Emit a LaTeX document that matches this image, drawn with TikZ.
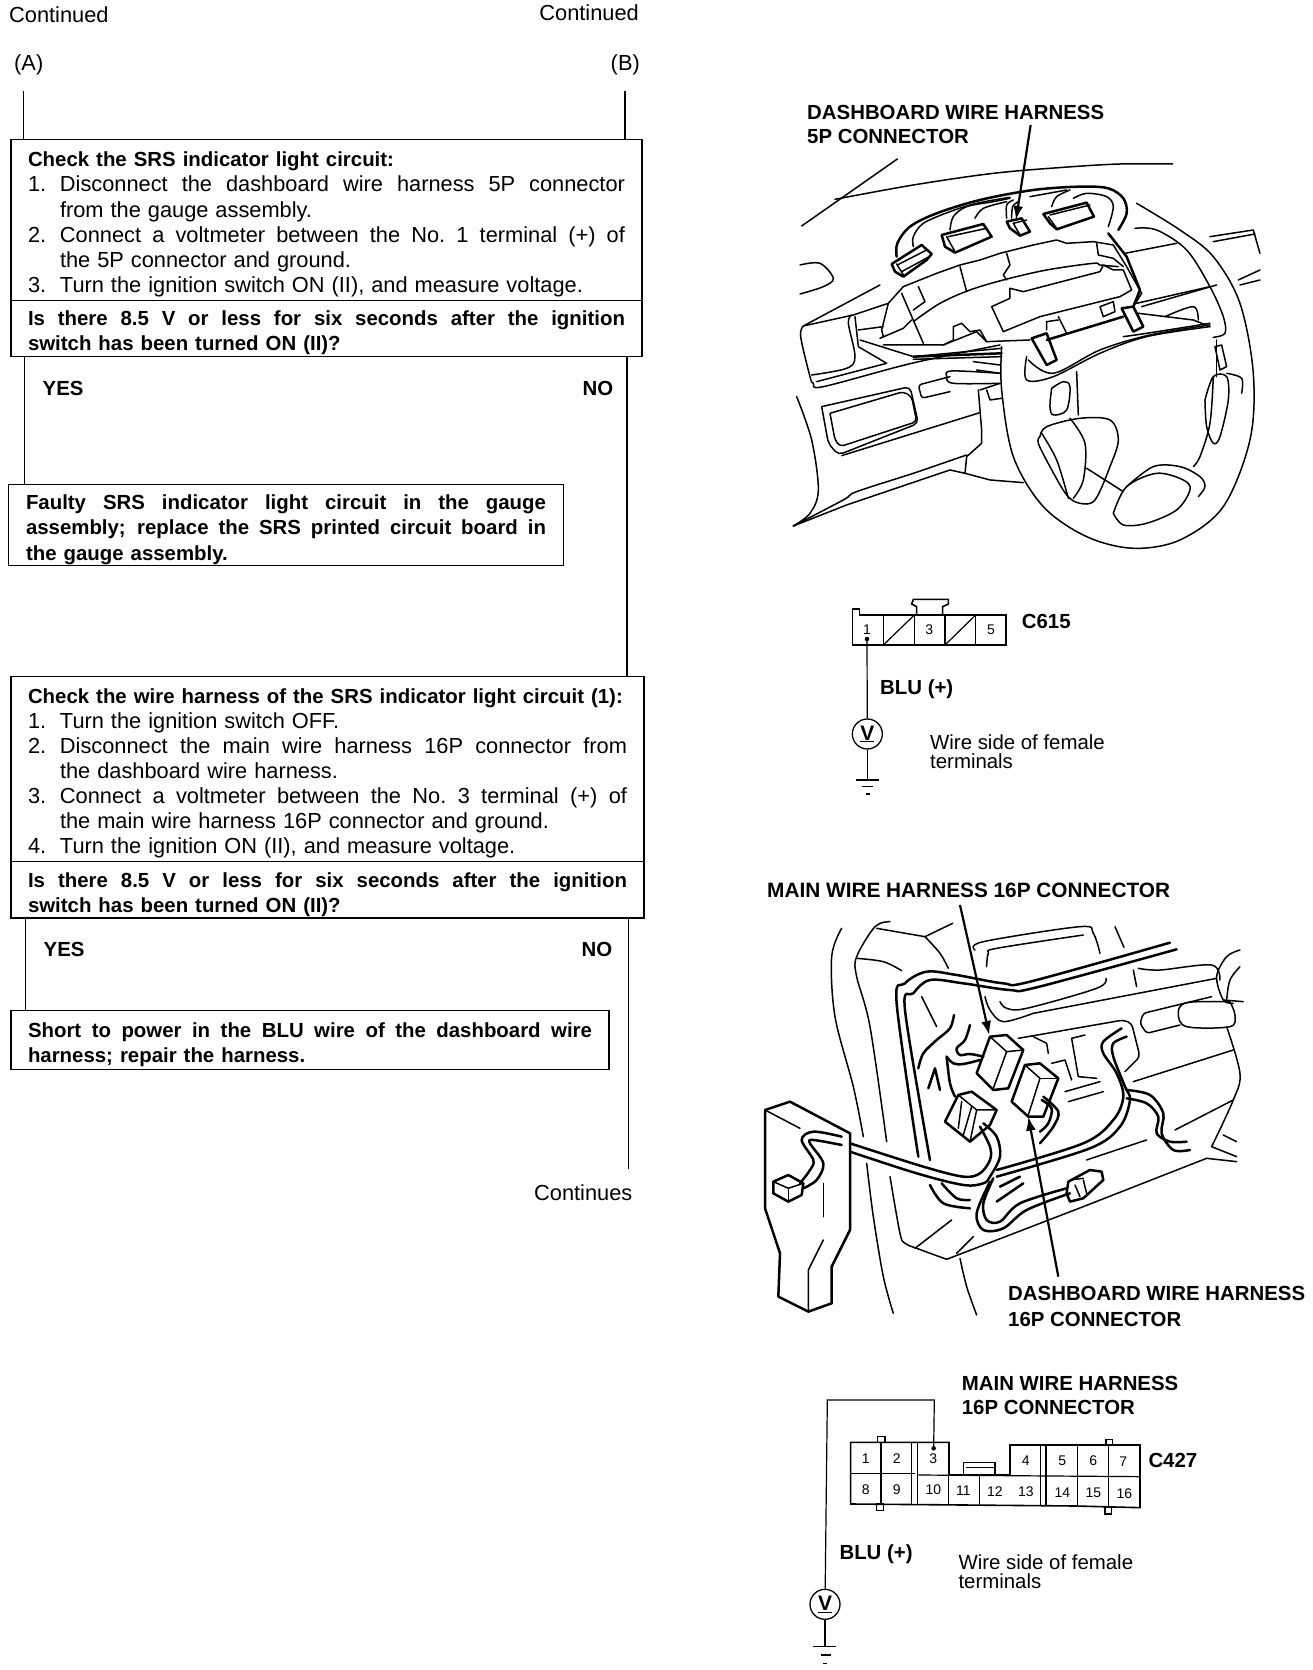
\documentclass[tikz,border=0pt]{standalone}
\usepackage{fontspec}
\setmainfont{Liberation Sans}
\usetikzlibrary{arrows.meta,calc}
\newcommand\bodyf{\fontsize{20.4}{25.1}\selectfont}
\newcommand\regf{\fontsize{21.8}{25.1}\selectfont}
\newcommand\bfx{\fontsize{20.4}{25.1}\selectfont\bfseries}
\newcommand\tinyf{\fontsize{14}{14}\selectfont}
\newcommand\topstrut{\rule{0pt}{24pt}\spaceskip=7pt plus 30pt\xspaceskip=7pt plus 30pt\relax}
\newcommand\jus[1]{\makebox[\hsize][s]{#1}}
\newcommand\numj[2]{\makebox[32pt][l]{#1}\makebox[\dimexpr\hsize-32pt\relax][s]{#2}}
\newcommand\numl[2]{\makebox[32pt][l]{#1}#2}
\newcommand\indt[1]{\hspace*{32pt}#1}
\newcommand\crv[2][]{\draw[art,#1] plot[smooth,tension=.55] coordinates {#2};}
\newcommand\ply[2][]{\draw[art,#1] plot coordinates {#2};}
\tikzset{
 flowbox/.style={draw,line width=1.1pt,anchor=north west,inner xsep=17pt,inner ysep=0pt,outer sep=0pt,align=left,font=\regf},
 flowline/.style={line width=1.1pt},
 lbl/.style={inner sep=0pt,font=\regf,anchor=west},
 lblr/.style={inner sep=0pt,font=\regf,anchor=east},
 blbl/.style={inner sep=0pt,font=\bodyf\bfseries,anchor=west},
 blblr/.style={inner sep=0pt,font=\bodyf\bfseries,anchor=east},
 tight/.style={inner sep=0pt,anchor=north west,align=left,font=\fontsize{20.4}{19}\selectfont},
 pin/.style={inner sep=0pt,font=\tinyf},
 art/.style={line width=1.5pt,line join=round,line cap=round},
 fat/.style={art,line width=2.5pt},
 pointer/.style={line width=2.2pt,-{Latex[length=14pt,width=10pt]}},
 vmeter/.style={draw,circle,line width=1.3pt,minimum size=30pt,inner sep=0pt,font=\fontsize{21}{21}\selectfont\bfseries},
 wire/.style={line width=1.2pt},
 conn/.style={line width=1.6pt,line join=miter},
}
\begin{document}
\begin{tikzpicture}[x=1pt,y=-1pt]
\path[use as bounding box,fill=white] (0,0) rectangle (1312,1670);

% ---------- left column: flow ----------
\node[lbl] (c1) at (9,15) {Continued};
\node[lblr] (c2) at (639,13) {Continued};
\node[lbl] (la) at (14,64.5) {(A)};
\node[lblr] (lb) at (640,64.5) {(B)};

\node[flowbox,minimum width=631pt,minimum height=160.8pt,text width=597pt] (box1) at (11,139.5) {%
\topstrut{\bfx Check the SRS indicator light circuit:}\\
\numj{1.}{Disconnect the dashboard wire harness 5P connector}\\
\indt{from the gauge assembly.}\\
\numj{2.}{Connect a voltmeter between the No. 1 terminal (+) of}\\
\indt{the 5P connector and ground.}\\
\numl{3.}{Turn the ignition switch ON (II), and measure voltage.}};
\node[flowbox,minimum width=631pt,minimum height=56.5pt,text width=597pt] (q1) at (11,300.3) {%
\bfx\topstrut\jus{Is there 8.5 V or less for six seconds after the ignition}\\
switch has been turned ON (II)?};
\node[flowbox,minimum width=555pt,minimum height=81pt,text width=520pt] (fault) at (8.5,484.6) {%
\bfx\topstrut\jus{Faulty SRS indicator light circuit in the gauge}\\
\jus{assembly; replace the SRS printed circuit board in}\\
the gauge assembly.};
\node[flowbox,minimum width=633pt,minimum height=185.3pt,text width=599pt] (box2) at (11,676.3) {%
\topstrut{\bfx Check the wire harness of the SRS indicator light circuit (1):}\\
\numl{1.}{Turn the ignition switch OFF.}\\
\numj{2.}{Disconnect the main wire harness 16P connector from}\\
\indt{the dashboard wire harness.}\\
\numj{3.}{Connect a voltmeter between the No. 3 terminal (+) of}\\
\indt{the main wire harness 16P connector and ground.}\\
\numl{4.}{Turn the ignition ON (II), and measure voltage.}};
\node[flowbox,minimum width=633pt,minimum height=56.4pt,text width=599pt] (q2) at (11,861.6) {%
\bfx\topstrut\jus{Is there 8.5 V or less for six seconds after the ignition}\\
switch has been turned ON (II)?};
\node[flowbox,minimum width=598pt,minimum height=58.5pt,text width=564pt] (short) at (11,1010.7) {%
\bfx\topstrut\jus{Short to power in the BLU wire of the dashboard wire}\\
harness; repair the harness.};

\node[blbl] (y1) at (42.5,388) {YES};
\node[blblr] (n1) at (613.5,388) {NO};
\node[blbl] (y2) at (43.5,949) {YES};
\node[blblr] (n2) at (612.5,949) {NO};
\node[lblr] (cont) at (632.5,1193) {Continues};

\coordinate (a0) at (23.5,90.5);
\coordinate (b0) at (625,90.5);
\coordinate (a1) at (24.5,356.8);
\coordinate (b1) at (627,356.8);
\coordinate (a2) at (25.5,918);
\coordinate (b2) at (628.5,918);
\coordinate (bend) at (628.5,1169);
\draw[flowline] (a0) -- (a0 |- box1.north);
\draw[flowline] (b0) -- (b0 |- box1.north);
\draw[line width=1.5pt] (a1) -- (a1 |- fault.north);
\draw[line width=1.5pt] (b1) -- (b1 |- box2.north);
\draw[flowline] (a2) -- (a2 |- short.north);
\draw[line width=1.5pt] (b2) -- (bend);

% ---------- labels, right column ----------
\node[blbl] (t1) at (807,112) {DASHBOARD WIRE HARNESS};
\node[blbl] (t2) at (807,136) {5P CONNECTOR};
\node[blbl,font=\fontsize{20.8}{25}\selectfont\bfseries] (t3) at (767,890) {MAIN WIRE HARNESS 16P CONNECTOR};
\node[blbl] (t4) at (1008,1293) {DASHBOARD WIRE HARNESS};
\node[blbl] (t5) at (1008,1319) {16P CONNECTOR};

% ---------- steering wheel illustration ----------
\begin{scope}[shift={(780,90)},x=0.3333pt,y=-0.3333pt]
\coordinate (p1s) at (752,105); \coordinate (p1e) at (708,390);
\draw[pointer] (p1s) -- (p1e);
\ply{(65,408)(352,207)}
\crv{(165,328)(400,285)(640,250)(850,232)(1020,222)(1178,222)}
\crv[fat]{(350,500)(352,460)(390,410)(470,370)(600,330)(760,300)(900,290)(985,295)(1030,325)(1040,370)(1015,420)}
\crv{(400,470)(400,440)(430,400)(510,365)(590,340)(690,322)}
\crv{(510,420)(520,380)(560,350)(640,335)(690,325)}
\crv{(585,385)(610,355)(680,335)}
\ply{(750,320)(860,300)}
\crv{(815,350)(830,320)(870,300)}
\crv{(880,325)(920,310)(980,320)(1000,350)(985,410)}
\ply[fat]{(335,522)(425,465)(455,492)(440,510)(370,560)(345,545)(335,522)}
\ply{(350,522)(372,558)}\ply{(352,525)(440,480)}\ply{(365,545)(448,500)}
\ply[fat]{(485,435)(610,402)(635,440)(525,488)(495,470)(485,435)}
\ply{(500,440)(525,485)}\ply{(505,440)(620,415)}
\ply[fat]{(680,395)(725,385)(750,425)(720,437)(690,415)(680,395)}
\ply{(700,400)(720,435)}\ply{(700,400)(740,390)}
\crv{(680,385)(680,345)(700,330)}\crv{(695,385)(698,350)(715,335)}
\ply[fat]{(790,372)(920,338)(942,380)(830,418)(810,400)(790,372)}
\ply{(805,380)(830,415)}\ply{(810,375)(930,345)}
\ply{(325,640)(370,590)(470,550)(540,525)(600,510)(660,490)(680,485)(760,465)(830,450)(860,460)(940,455)(1000,465)(1040,530)(1085,610)(1060,650)}
\ply{(540,530)(560,605)}
\ply{(950,460)(955,495)(1000,505)(1030,530)}
\crv{(400,695)(480,640)(570,600)(670,570)(800,540)(940,520)(960,525)(1015,530)}
\ply{(680,490)(690,525)(670,555)(680,570)}
\ply{(635,650)(690,625)(690,595)(730,605)(960,545)(970,525)(1000,540)(1030,540)(1055,600)(1020,620)(780,680)(670,725)(635,650)}
\ply[fat]{(1025,655)(1060,650)(1090,710)(1060,725)(1025,655)}
\ply[fat]{(755,745)(800,730)(830,810)(800,825)(755,745)}
\ply{(310,765)(490,765)(590,725)(620,755)(750,750)}
\ply{(620,755)(600,720)(570,725)(545,700)(520,710)(520,750)(490,765)}
\ply[fat]{(800,750)(1030,680)}
\ply{(835,690)(800,695)(800,720)}\ply{(835,680)(860,730)}
\ply{(960,650)(1000,635)(1005,665)(970,680)(960,650)}
\ply{(365,610)(430,760)}\ply{(415,590)(435,635)(400,660)}
\ply{(325,640)(305,720)(310,740)(300,745)(370,715)(395,690)}
\crv{(60,525)(120,520)(160,565)(130,590)(60,612)}
\ply{(70,708)(300,585)}
\ply{(70,708)(220,675)(325,640)}
\crv{(70,708)(62,740)(90,860)(100,880)(130,890)(395,820)(660,765)}
\crv{(95,855)(200,835)(225,800)(205,700)(215,675)}
\ply{(225,680)(235,770)(320,820)(110,875)}
\ply{(235,720)(310,710)}
\ply{(240,750)(400,800)(665,775)}
\ply[fat]{(400,800)(665,790)}
\ply{(400,808)(665,800)}
\ply{(580,815)(660,825)}\ply{(590,840)(660,850)}
\crv{(660,880)(520,880)(500,860)(515,843)(660,850)}
\ply[rounded corners=3pt]{(510,860)(415,885)(425,925)(510,905)}
\ply{(600,900)(660,880)}\ply{(620,900)(630,930)(665,925)}
\ply[rounded corners=5pt]{(125,950)(390,890)(415,1000)(175,1095)(145,1060)(125,950)}
\ply[rounded corners=4pt]{(150,970)(370,905)(395,920)(410,995)(180,1070)(165,1050)(150,970)}
\ply{(595,900)(605,1020)(605,1060)(560,1100)(555,1150)}
\ply{(185,1097)(600,968)}
\crv{(560,1095)(400,1150)(230,1205)(190,1230)(40,1308)}
\crv{(50,920)(95,1050)(115,1200)(90,1270)(40,1308)}
\ply{(40,1308)(200,1245)(510,1140)(555,1150)(630,1170)(730,1178)}
% wheel
\crv{(665,770)(665,900)(700,1100)(790,1250)(920,1340)(1060,1375)(1200,1350)(1330,1250)(1410,1050)(1420,850)(1380,640)(1300,500)(1200,420)(1070,340)}
\crv{(1065,415)(1130,420)(1220,480)(1290,590)(1330,680)(1335,730)(1300,742)}
\crv{(740,800)(740,870)(820,860)(960,790)(1100,740)(1290,710)}
\crv{(745,810)(820,850)(960,780)(1110,735)(1290,705)}
\crv{(1030,740)(1100,730)(1290,700)}
\ply{(1075,670)(1240,690)(1290,710)}
\crv{(1155,680)(1240,650)(1255,690)}
\ply{(1070,640)(1290,590)}\ply{(1085,650)(1310,585)}
\ply{(1035,490)(1190,460)}\ply{(1290,440)(1420,420)(1440,490)}\ply{(1300,455)(1425,432)}
\ply{(1375,570)(1440,540)}\ply{(1380,585)(1440,570)}
\ply[fat]{(985,430)(1040,500)(1080,600)(1060,650)}
\crv{(815,895)(850,875)(870,890)(860,960)(820,975)(810,950)(815,895)}
\ply{(890,845)(895,975)}
\crv{(780,1040)(800,1010)(900,985)(990,990)(1015,1050)(990,1130)(945,1230)(900,1240)(860,1215)(810,1130)(775,1060)(780,1040)}
\crv{(870,985)(915,1060)(910,1170)(880,1225)}
\crv{(785,1030)(830,1110)(865,1225)}
\ply{(920,1135)(1030,1205)}
\crv{(1000,1270)(1040,1190)(1130,1150)(1210,1170)(1230,1200)(1190,1260)(1100,1300)(1030,1305)(1000,1270)}
\crv{(1040,1190)(1120,1130)(1200,1130)(1260,1160)(1275,1190)(1255,1220)}
\crv{(1275,930)(1300,860)(1340,860)(1345,930)(1320,1040)(1300,1060)(1280,1010)(1275,930)}
\crv{(1300,860)(1290,1000)(1260,1100)(1240,1130)}
\crv{(1340,850)(1385,865)(1385,910)}
\ply{(1305,770)(1325,765)(1340,830)(1320,840)(1305,770)}
\ply{(1310,750)(1310,860)}
\end{scope}

% ---------- C615 ----------
\begin{scope}[shift={(820,590)},x=0.3333pt,y=-0.3333pt]
\ply[conn]{(98,57)(118,57)(118,75)(558,75)(558,165)(98,165)(98,57)}
\foreach \px in {190,283,375,467}{\draw[wire] (\px,75) -- (\px,165);}
\draw[wire] (190,165) -- (283,75);
\draw[wire] (375,165) -- (467,75);
\ply[conn]{(290,75)(290,50)(275,42)(280,28)(385,28)(385,42)(368,50)(368,75)}
\node[pin] (c6p1) at (141,120) {1};
\node[pin] (c6p3) at (328,120) {3};
\node[pin] (c6p5) at (513,120) {5};
\coordinate (c6t) at (141,147);
\fill (c6t) circle[radius=2.3pt];
\node[vmeter] (v1) at (142,432) {\underline{V}};
\coordinate (g1) at (142,570);
\draw[wire] (c6t) -- (v1);
\draw[wire] (v1) -- (g1);
\draw[wire] (108,570) -- (178,570);
\draw[wire] (125,590) -- (160,590);
\draw[wire] (137,612) -- (150,612);
\node[blbl] (c615) at (605,95) {C615};
\node[blbl] (blu1) at (180,297) {BLU (+)};
\node[tight] (ws1) at (330,434) {Wire side of female\\terminals};
\end{scope}

% ---------- harness illustration ----------
\begin{scope}[shift={(750,900)},x=0.3333pt,y=-0.3333pt]
\coordinate (p2s) at (630,15); \coordinate (p2e) at (718,405);
\draw[pointer] (p2s) -- (p2e);
\coordinate (p3s) at (925,1130); \coordinate (p3e) at (835,650);
\draw[pointer] (p3s) -- (p3e);
\crv{(275,85)(245,170)(255,350)(310,560)(340,710)}
\crv{(350,790)(370,950)(400,1130)(430,1240)}
\crv{(420,65)(375,80)(320,170)(320,230)(360,380)(410,725)}
\ply{(380,85)(525,110)(608,70)}
\crv{(525,110)(570,160)(595,205)}
\crv{(320,175)(400,185)(455,212)}
\crv{(420,830)(450,1000)(465,1030)(500,1045)(590,1078)}
\ply{(590,1078)(1000,920)(1370,775)(1460,785)}
\ply{(495,1045)(605,960)}\ply{(620,1060)(670,1010)}
\crv{(630,1075)(650,1160)(680,1245)}
\crv[fat]{(505,770)(440,310)(465,250)(530,215)(620,225)(760,250)(840,245)(1260,128)}
\crv[fat]{(540,780)(465,330)(490,280)(540,240)(640,250)(780,270)(860,262)(1280,148)}
\crv{(675,150)(700,125)(990,80)(1030,100)(1050,160)}
\ply{(1095,80)(1122,142)}
\crv{(710,200)(715,160)(740,145)(1000,105)}
\crv{(705,290)(720,330)(760,365)(850,340)}
\crv{(750,305)(770,325)(830,325)(1040,265)(1068,235)}
\crv{(1165,205)(1230,210)(1385,195)(1410,240)}
\ply{(850,340)(1400,235)}
\ply{(1150,210)(1160,260)}
\crv{(1470,150)(1430,170)(1400,230)(1420,300)(1450,310)}
\crv{(1470,200)(1440,240)(1430,300)}
\ply{(1420,300)(1480,305)}
\crv{(1440,305)(1310,308)(1285,340)(1310,380)(1440,380)(1455,345)(1440,305)}
\ply[rounded corners=3pt]{(1385,290)(1180,340)(1170,370)(1190,400)(1290,375)}
\ply[rounded corners=4pt]{(805,415)(1120,360)(1145,370)(1170,470)(1125,515)}
\ply{(1150,545)(1450,450)}
\crv{(1430,380)(1470,520)(1450,600)(1385,740)}
\ply{(1385,740)(1460,770)}\ply{(1420,705)(1460,725)}
\ply{(1275,690)(1450,600)}
\ply{(1010,780)(1190,720)}
\ply[fat]{(680,520)(720,410)(770,405)(820,450)(775,565)(730,570)(680,520)}
\ply{(720,410)(770,455)(730,565)}\ply{(770,455)(820,450)}
\ply[fat]{(785,605)(825,495)(870,490)(925,535)(880,650)(835,650)(785,605)}
\ply{(825,495)(870,535)(835,645)}\ply{(870,535)(925,535)}
\ply[fat]{(585,665)(625,585)(665,575)(740,630)(720,675)(660,725)(585,665)}
\ply{(635,605)(625,685)}\ply{(665,620)(640,705)}\ply{(625,585)(680,630)(740,630)}\ply{(680,630)(660,725)}
\crv[fat]{(612,345)(600,385)(560,420)(520,460)(505,505)}
\crv[fat]{(660,375)(645,420)(620,445)(630,465)(660,462)(700,470)}
\crv[fat]{(590,470)(610,490)(640,492)(690,480)}
\ply[fat]{(535,565)(555,505)(570,570)}
\crv[fat]{(590,470)(600,550)(615,590)}
\crv[fat]{(300,730)(520,800)(640,830)(690,820)(720,780)(720,740)(690,680)}
\crv[fat]{(300,755)(500,820)(640,855)(700,850)(720,830)(750,770)(740,710)(700,670)}
\crv[fat]{(740,810)(1000,730)(1090,660)(1120,590)(1100,520)(1060,460)(1060,425)(1115,385)}
\crv[fat]{(740,830)(1020,745)(1110,680)(1140,600)(1125,560)(1090,470)(1090,430)(1130,410)}
\crv[fat]{(1130,570)(1200,585)(1240,640)(1235,700)(1270,750)(1320,750)}
\crv[fat]{(1130,595)(1190,610)(1225,650)(1220,700)(1260,725)(1310,725)}
\crv[fat]{(880,590)(925,635)(910,680)(870,730)}
\crv[fat]{(875,600)(905,625)(895,670)(870,695)}
\crv[fat]{(720,845)(680,940)(700,990)(760,985)(830,930)(960,880)}
\crv[fat]{(730,835)(700,910)(710,960)(750,965)(810,910)(950,865)}
\ply[fat]{(955,845)(1020,810)(1055,815)(1060,840)(1000,895)(960,905)(950,880)(955,845)}
\ply{(975,855)(990,890)}\ply{(1000,840)(1010,880)}\ply{(960,840)(1000,835)}
\crv[fat]{(540,855)(580,910)(660,925)}
\crv[fat]{(575,850)(620,895)(660,900)}
\ply[fat]{(750,860)(810,830)}\ply[fat]{(740,905)(820,850)}
\ply{(850,410)(890,430)(895,460)}
\ply{(1005,405)(965,415)(985,530)(1040,535)}
\ply{(905,490)(945,480)(965,540)}
\ply{(945,575)(1050,545)}\ply{(955,605)(1060,575)}
\ply{(515,290)(560,380)}
% module
\ply[fat]{(45,630)(120,605)(300,700)(300,990)(245,1100)(245,1210)(175,1235)(85,1190)(90,1060)(45,925)(45,630)}
\ply{(45,630)(150,685)}
\ply{(175,1235)(175,1110)(220,1020)}
\ply{(220,850)(220,950)}
\crv[fat]{(275,710)(190,695)(155,720)(190,780)(180,810)(150,850)}
\crv[fat]{(275,735)(190,720)(180,730)(220,790)(200,840)(160,865)}
\ply[fat]{(70,845)(115,825)(160,850)(155,885)(115,905)(70,880)(70,845)}
\ply{(70,845)(115,865)(160,850)}\ply{(115,865)(115,905)}
\end{scope}

% ---------- C427 ----------
\begin{scope}[shift={(800,1360)},x=0.3333pt,y=-0.3333pt]
\node[blbl] (t6) at (485,70) {MAIN WIRE HARNESS};
\node[blbl] (t7) at (485,143) {16P CONNECTOR};
\ply[conn]{(152,247)(447,247)(447,345)(630,345)(630,255)(1020,255)(1020,443)(825,438)(152,432)(152,247)}
\draw[wire] (152,340) -- (345,340);
\draw[wire] (355,345) -- (1020,350);
\draw[wire] (243,247) -- (243,432);
\draw[wire] (335,247) -- (335,432);
\draw[wire] (352,247) -- (352,432);
\draw[wire] (445,345) -- (445,435);
\draw[wire] (538,345) -- (538,435);
\draw[wire] (722,255) -- (722,438);
\draw[wire] (738,255) -- (738,438);
\draw[wire] (832,255) -- (832,440);
\draw[wire] (925,255) -- (925,443);
\draw[wire] (232,230) rectangle (255,247);
\draw[wire] (230,432) rectangle (250,452);
\draw[wire] (918,238) rectangle (938,255);
\draw[wire] (915,443) rectangle (935,462);
\ply[conn]{(490,345)(490,307)(585,307)(585,345)}
\draw[wire] (497,323) -- (585,323);
\node[pin] (k1) at (197,295) {1};
\node[pin] (k2) at (290,295) {2};
\node[pin] (k3) at (400,297) {3};
\node[pin] (k4) at (677,302) {4};
\node[pin] (k5) at (787,302) {5};
\node[pin] (k6) at (880,302) {6};
\node[pin] (k7) at (970,305) {7};
\node[pin] (k8) at (197,390) {8};
\node[pin] (k9) at (290,390) {9};
\node[pin] (k10) at (400,390) {10};
\node[pin] (k11) at (490,393) {11};
\node[pin] (k12) at (585,395) {12};
\node[pin] (k13) at (678,395) {13};
\node[pin] (k14) at (787,397) {14};
\node[pin] (k15) at (880,397) {15};
\node[pin] (k16) at (973,400) {16};
\coordinate (c4t) at (401,265);
\coordinate (c4a) at (403,120);
\coordinate (c4b) at (82,120);
\fill (c4t) circle[radius=2.3pt];
\node[vmeter] (v2) at (75,733) {\underline{V}};
\coordinate (g2) at (75,860);
\draw[wire,line join=miter] (c4t) -- (c4a) -- (c4b) -- (v2);
\draw[wire] (v2) -- (g2);
\draw[wire] (40,860) -- (108,860);
\draw[wire] (62,885) -- (92,885);
\draw[wire] (70,910) -- (80,910);
\node[blbl] (c427) at (1045,302) {C427};
\node[blbl] (blu2) at (118,583) {BLU (+)};
\node[tight] (ws2) at (475,585) {Wire side of female\\terminals};
\end{scope}
\end{tikzpicture}
\end{document}
